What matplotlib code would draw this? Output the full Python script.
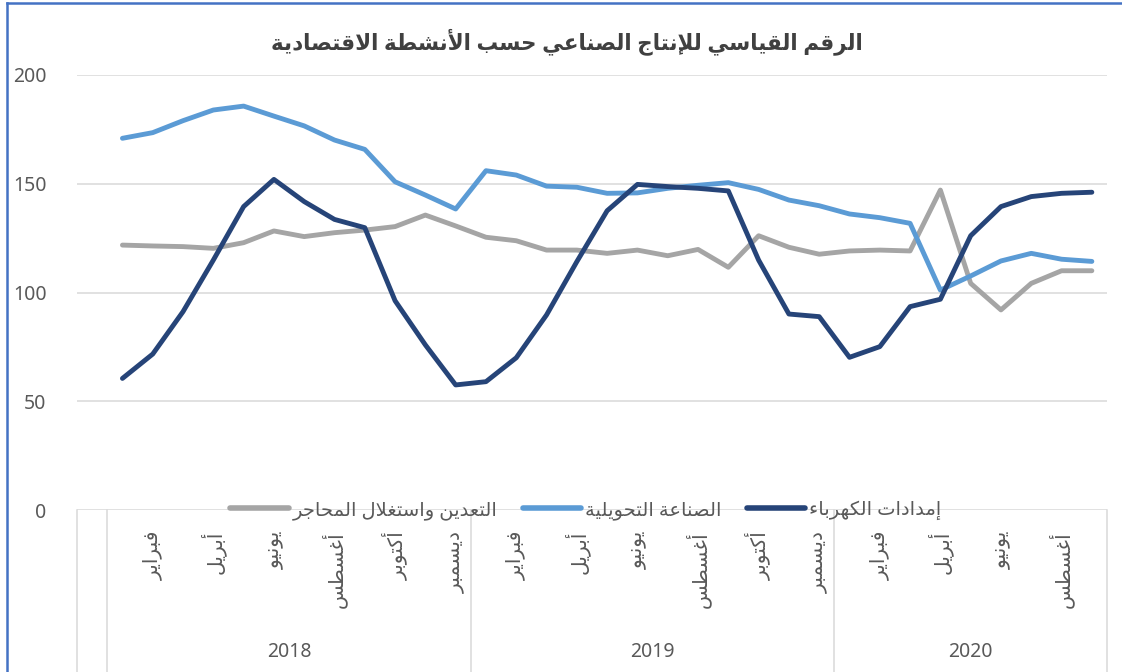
import numpy as np
import matplotlib
matplotlib.use("Agg")
import matplotlib.pyplot as plt
import matplotlib.transforms as mtransforms
from matplotlib.lines import Line2D

# values (index, Jan 2018 .. Sep 2020)
mining = [121.8, 121.4, 121.1, 120.3, 122.9, 128.3, 125.7, 127.5, 128.7, 130.3, 135.6, 130.6,
          125.4, 123.8, 119.5, 119.5, 118.0, 119.5, 116.9, 119.8, 111.6, 126.1, 120.8, 117.6,
          119.1, 119.5, 119.1, 147.1, 104.2, 92.0, 104.2, 110.0, 110.0]
manufacturing = [170.9, 173.5, 179.0, 183.9, 185.7, 181.1, 176.6, 170.1, 165.8, 150.9, 144.8, 138.4,
                 156.0, 154.0, 148.9, 148.4, 145.6, 145.8, 147.9, 149.3, 150.5, 147.4, 142.5, 139.9,
                 136.1, 134.4, 131.8, 101.1, 107.6, 114.5, 118.0, 115.3, 114.3]
electricity = [60.5, 71.7, 91.2, 114.9, 139.5, 152.0, 141.8, 133.6, 129.8, 96.2, 75.9, 57.5,
               59.0, 70.0, 89.7, 114.2, 137.6, 149.7, 148.7, 147.9, 146.7, 114.9, 90.1, 88.9,
               70.2, 75.1, 93.5, 96.9, 126.1, 139.5, 144.1, 145.6, 146.1]
years = ["2018", "2019", "2020"]
year_len = [12, 12, 9]
months = ["يناير", "فبراير", "مارس", "أبريل", "مايو", "يونيو",
          "يوليو", "أغسطس", "سبتمبر", "أكتوبر", "نوفمبر", "ديسمبر"]
series_names = ["التعدين واستغلال المحاجر", "الصناعة التحويلية", "إمدادات الكهرباء"]
title = "الرقم القياسي للإنتاج الصناعي حسب الأنشطة الاقتصادية"
yticks = [0, 50, 100, 150, 200]

# matplotlib has no arabic shaping, so pick presentation forms by hand
# value: (isolated form code, number of forms) 1=no joining, 2=right joining, 4=dual
FORMS = {"ء": (0xFE80, 1), "آ": (0xFE81, 2), "أ": (0xFE83, 2), "ؤ": (0xFE85, 2), "إ": (0xFE87, 2),
         "ئ": (0xFE89, 4), "ا": (0xFE8D, 2), "ب": (0xFE8F, 4), "ة": (0xFE93, 2), "ت": (0xFE95, 4),
         "ث": (0xFE99, 4), "ج": (0xFE9D, 4), "ح": (0xFEA1, 4), "خ": (0xFEA5, 4), "د": (0xFEA9, 2),
         "ذ": (0xFEAB, 2), "ر": (0xFEAD, 2), "ز": (0xFEAF, 2), "س": (0xFEB1, 4), "ش": (0xFEB5, 4),
         "ص": (0xFEB9, 4), "ض": (0xFEBD, 4), "ط": (0xFEC1, 4), "ظ": (0xFEC5, 4), "ع": (0xFEC9, 4),
         "غ": (0xFECD, 4), "ف": (0xFED1, 4), "ق": (0xFED5, 4), "ك": (0xFED9, 4), "ل": (0xFEDD, 4),
         "م": (0xFEE1, 4), "ن": (0xFEE5, 4), "ه": (0xFEE9, 4), "و": (0xFEED, 2), "ى": (0xFEEF, 2),
         "ي": (0xFEF1, 4)}
LAM_ALEF = {"آ": 0xFEF5, "أ": 0xFEF7, "إ": 0xFEF9, "ا": 0xFEFB}


def shape(txt):
    toks = []
    i = 0
    while i < len(txt):
        c = txt[i]
        if c == "ل" and txt[i + 1:i + 2] in LAM_ALEF:
            toks.append((LAM_ALEF[txt[i + 1]], 2))
            i += 2
            continue
        toks.append(FORMS.get(c, c))
        i += 1
    res = []
    for k, t in enumerate(toks):
        if isinstance(t, str):
            res.append(t)
            continue
        base, n = t
        prev = toks[k - 1] if k > 0 else None
        nxt = toks[k + 1] if k + 1 < len(toks) else None
        jp = n > 1 and isinstance(prev, tuple) and prev[1] == 4
        jn = n == 4 and isinstance(nxt, tuple) and nxt[1] > 1
        if jp and jn:
            off = 3
        elif jp:
            off = 1
        elif jn:
            off = 2
        else:
            off = 0
        res.append(chr(base + off))
    return "".join(res[::-1])


plt.rcParams["font.family"] = ["Noto Sans", "DejaVu Sans"]
grey_txt = "#595959"
colors = ["#A5A5A5", "#5B9BD5", "#264478"]

W, H = 1122, 672
fig = plt.figure(figsize=(W / 100, H / 100), dpi=100)
ax = fig.add_axes([77 / W, 1 - 510 / H, 1030 / W, 435 / H])

x = np.arange(1, len(mining) + 1)
for vals, col in zip([mining, manufacturing, electricity], colors):
    ax.plot(x, vals, color=col, lw=3.5, solid_capstyle="round", zorder=3)

ax.set_xlim(-0.5, len(mining) + 0.5)
ax.set_ylim(0, 200)
ax.set_yticks(yticks)
ax.set_xticks([])
ax.grid(axis="y", color="#D9D9D9", lw=1.1)
ax.set_axisbelow(True)
for s in ax.spines.values():
    s.set_visible(False)
ax.tick_params(axis="y", length=0, pad=22, labelsize=14, colors=grey_txt)

# category axis: month labels and year groups
trans = mtransforms.blended_transform_factory(ax.transData, ax.transAxes)
bounds = [-0.5, 0.5]
for n in year_len:
    bounds.append(bounds[-1] + n)
for b in bounds:
    ax.plot([b, b], [0, -0.4], color="#D9D9D9", lw=1.1, transform=trans, clip_on=False)

k = 1
for y, n in zip(years, year_len):
    for m in range(n):
        if m % 2 == 1:
            ax.text(k + m, -0.048, shape(months[m]), rotation=90, ha="center", va="top",
                    fontsize=14.5, color=grey_txt, transform=trans)
    ax.text(k + (n - 1) / 2, -0.326, y, ha="center", va="center", fontsize=14,
            color=grey_txt, transform=trans)
    k += n

handles = [Line2D([], [], color=c, lw=4, solid_capstyle="round") for c in colors]
ax.legend(handles, [shape(s) for s in series_names], loc="center", bbox_to_anchor=(0.494, 0.0),
          ncol=3, frameon=False, fontsize=14, handlelength=3.0, handletextpad=0.2,
          columnspacing=1.3, labelcolor=grey_txt)

fig.text(567 / W, 1 - 42 / H, shape(title), ha="center", va="center", fontsize=15.5,
         fontweight="bold", color="#404040")

# blue frame along the top and left edge
fig.add_artist(Line2D([7 / W, 7 / W], [0, 1 - 3 / H], color="#4472C4", lw=1.8, transform=fig.transFigure))
fig.add_artist(Line2D([7 / W, 1], [1 - 3 / H, 1 - 3 / H], color="#4472C4", lw=1.8, transform=fig.transFigure))

fig.savefig("out.png", dpi=100)
